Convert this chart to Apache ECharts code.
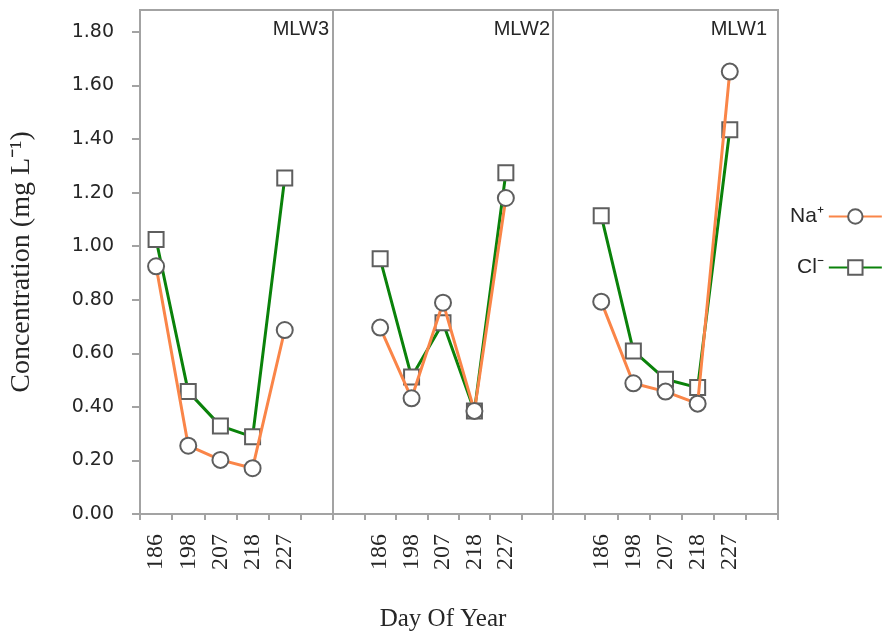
<!DOCTYPE html>
<html>
<head>
<meta charset="utf-8">
<script src="https://cdn.jsdelivr.net/npm/echarts@6/dist/echarts.min.js"></script>
<style>
  html, body { margin: 0; padding: 0; background: #fff; }
  #chart { width: 883px; height: 633px; }
</style>
</head>
<body>
<div id="chart"></div>
<script>
// Sampling days (day of year)
const days = ['186', '198', '207', '218', '227'];

// Concentrations (mg/L) per well
const naMLW3 = [0.925, 0.255, 0.202, 0.171, 0.687];
const clMLW3 = [1.025, 0.457, 0.329, 0.288, 1.255];
const naMLW2 = [0.696, 0.432, 0.789, 0.385, 1.180];
const clMLW2 = [0.953, 0.512, 0.714, 0.385, 1.274];
const naMLW1 = [0.793, 0.488, 0.457, 0.412, 1.652];
const clMLW1 = [1.114, 0.609, 0.503, 0.472, 1.435];

const wells = ['MLW3', 'MLW2', 'MLW1'];
const yTicks = [0, 0.2, 0.4, 0.6, 0.8, 1.0, 1.2, 1.4, 1.6, 1.8];

const NA = 'Na\u207A';
const CL = 'Cl\u207B';
const orange = '#FA8548';
const green = '#0A820A';
const frame = '#A3A3A3';
const ink = '#262626';

// Panel layout: first panel has a trailing empty slot, the others a leading and trailing one
const panels = [
  { left: 140, width: 193, cats: [...days, ' '], pad: (a) => [...a, null], na: naMLW3, cl: clMLW3, tRight: 883 - 329 },
  { left: 333, width: 220, cats: [' ', ...days, '  '], pad: (a) => [null, ...a, null], na: naMLW2, cl: clMLW2, tRight: 883 - 550 },
  { left: 553, width: 225, cats: [' ', ...days, '  '], pad: (a) => [null, ...a, null], na: naMLW1, cl: clMLW1, tRight: 883 - 767 }
];

const TOP = 10, HEIGHT = 504, YMAX = 1.882;

const grid = panels.map(p => ({
  left: p.left, top: TOP, width: p.width, height: HEIGHT,
  outerBoundsMode: 'none', containLabel: false,
  show: true, borderColor: frame, borderWidth: 2, backgroundColor: 'transparent'
}));

const xAxis = panels.map((p, i) => ({
  type: 'category', gridIndex: i, data: p.cats, boundaryGap: true,
  axisLine: { show: true, lineStyle: { color: frame, width: 2 } },
  axisTick: { show: true, interval: 0, alignWithLabel: false, length: 6, lineStyle: { color: frame, width: 2 } },
  axisLabel: {
    interval: 0, rotate: 90, margin: 20,
    fontFamily: 'Liberation Serif', fontSize: 24, color: ink
  },
  splitLine: { show: false },
  name: i === 1 ? 'Day Of Year' : '',
  nameLocation: 'middle', nameGap: 93,
  nameTextStyle: { fontFamily: 'Liberation Serif', fontSize: 25, color: ink }
}));

const yAxis = panels.map((p, i) => ({
  type: 'value', gridIndex: i, min: 0, max: YMAX,
  show: i === 0,
  axisLine: { show: true, lineStyle: { color: frame, width: 2 } },
  axisTick: { show: true, length: 8, customValues: yTicks, lineStyle: { color: frame, width: 2 } },
  axisLabel: {
    customValues: yTicks, margin: 26,
    formatter: (v) => v.toFixed(2),
    fontFamily: 'DejaVu Sans', fontSize: 19, color: ink
  },
  splitLine: { show: false },
  name: i === 0 ? 'Concentration (mg L\u207B\u00B9)' : '',
  nameLocation: 'middle', nameGap: 104, nameRotate: 90,
  nameTextStyle: { fontFamily: 'Liberation Serif', fontSize: 28, color: ink }
}));

const series = [];
panels.forEach((p, i) => {
  series.push({
    name: CL, type: 'line', xAxisIndex: i, yAxisIndex: i, z: 2,
    data: p.pad(p.cl),
    symbol: 'rect', symbolSize: 15, showAllSymbol: true,
    lineStyle: { color: green, width: 3 },
    itemStyle: { color: '#fff', borderColor: '#5e5e5e', borderWidth: 2 },
    emphasis: { disabled: true }, animation: false
  });
  series.push({
    name: NA, type: 'line', xAxisIndex: i, yAxisIndex: i, z: 3,
    data: p.pad(p.na),
    symbol: 'circle', symbolSize: 16, showAllSymbol: true,
    lineStyle: { color: orange, width: 3 },
    itemStyle: { color: '#fff', borderColor: '#5e5e5e', borderWidth: 2 },
    emphasis: { disabled: true }, animation: false
  });
});

const title = panels.map((p, i) => ({
  text: wells[i], right: p.tRight, top: 19, padding: 0,
  textStyle: { fontFamily: 'Liberation Sans', fontSize: 20, fontWeight: 'normal', color: ink }
}));

const chart = echarts.init(document.getElementById('chart'), null, { renderer: 'canvas' });
chart.setOption({
  animation: false,
  backgroundColor: '#fff',
  title,
  grid, xAxis, yAxis, series,
  legend: {
    data: [NA, CL], orient: 'vertical', left: 785, top: 201,
    align: 'right', itemWidth: 53, itemHeight: 18, itemGap: 30,
    selectedMode: false,
    textStyle: { fontFamily: 'Liberation Sans', fontSize: 21, color: ink }
  }
});
</script>
</body>
</html>
